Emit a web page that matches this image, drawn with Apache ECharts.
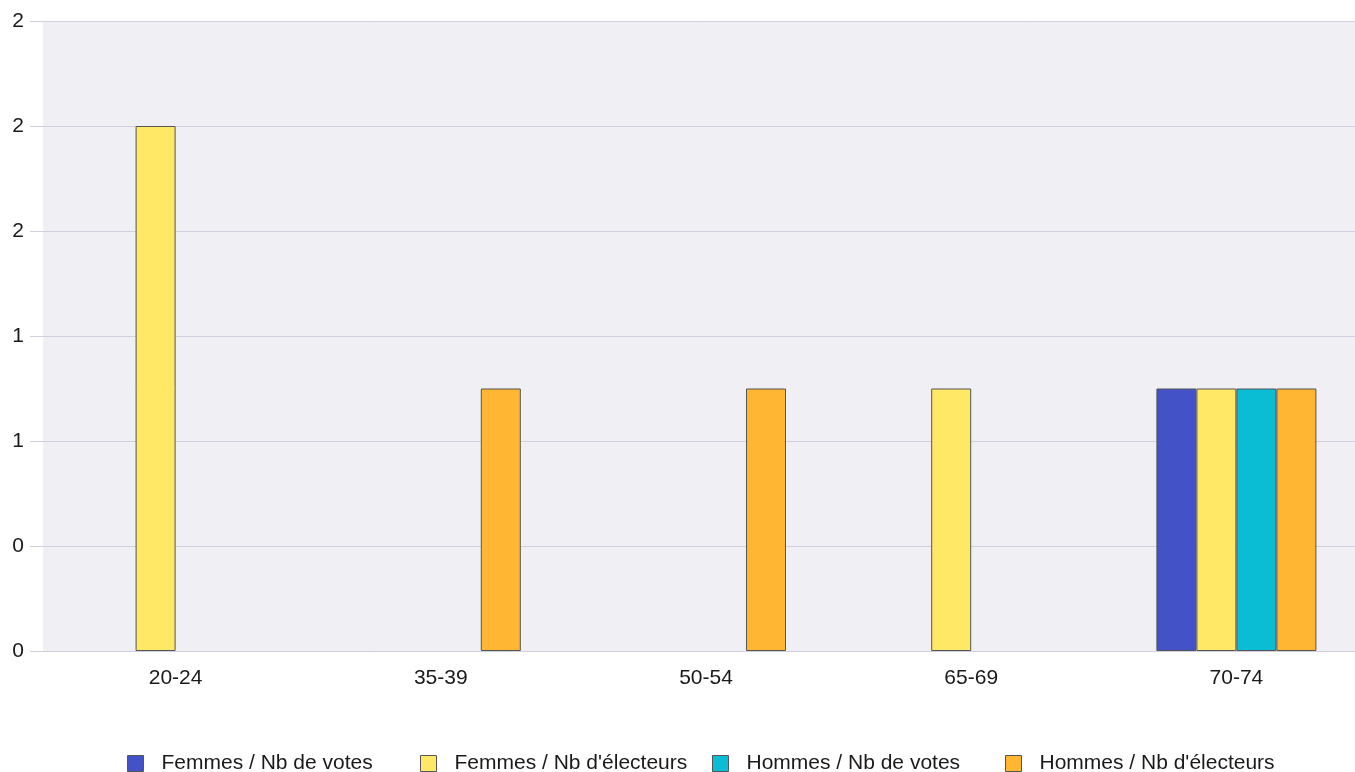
<!DOCTYPE html>
<html><head><meta charset="utf-8">
<script src="https://cdn.jsdelivr.net/npm/echarts@6/dist/echarts.min.js"></script>
<style>html,body{margin:0;padding:0;background:#fff}#c{width:1355px;height:772px}</style>
</head><body><div id="c"></div>
<script>
const categories = ['20-24','35-39','50-54','65-69','70-74'];
const seriesNames = ['Femmes / Nb de votes','Femmes / Nb d\'électeurs','Hommes / Nb de votes','Hommes / Nb d\'électeurs'];
const femmesVotes = [null, null, null, null, 1];
const femmesElecteurs = [2, null, null, 1, 1];
const hommesVotes = [null, null, null, null, 1];
const hommesElecteurs = [null, 1, 1, null, 1];
const yTicks = {min: 0, max: 2.4, interval: 0.4};
const colors = ['#4452c8','#ffe866','#0abdd5','#ffb733'];
const allData = [femmesVotes, femmesElecteurs, hommesVotes, hommesElecteurs];
const legendLeft = [127, 420, 712, 1005];

const chart = echarts.init(document.getElementById('c'));
chart.setOption({
  animation: false,
  textStyle: {fontFamily: 'Liberation Sans, Arial, sans-serif'},
  grid: {left: 43, top: 21, bottom: 121, width: 1326, outerBoundsMode: 'none', containLabel: false,
         show: true, backgroundColor: '#efeff4', borderWidth: 0},
  legend: seriesNames.map((n, i) => ({
    data: [n], left: legendLeft[i], top: 753, padding: 0, itemWidth: 16, itemHeight: 16, itemGap: 0,
    icon: 'rect', textStyle: {fontSize: 21, color: '#1a1a1a', padding: [0,0,0,13]},
    itemStyle: {borderColor: '#555', borderWidth: 1}
  })),
  xAxis: {
    type: 'category', data: categories,
    axisLine: {lineStyle: {color: '#cfcfe0'}},
    axisTick: {show: false},
    axisLabel: {fontSize: 21, color: '#1a1a1a', margin: 17}
  },
  yAxis: {
    type: 'value', min: yTicks.min, max: yTicks.max, interval: yTicks.interval,
    axisLine: {show: false},
    axisTick: {show: true, length: 13, lineStyle: {color: '#cfcfe0'}},
    splitLine: {lineStyle: {color: '#cfcfe0'}},
    axisLabel: {fontSize: 21, color: '#1a1a1a', margin: 19, formatter: v => Math.round(v).toString()}
  },
  series: seriesNames.map((n, i) => ({
    name: n, type: 'bar', data: allData[i], barWidth: 40, barGap: '0%',
    itemStyle: {color: colors[i], borderColor: '#555', borderWidth: 1}
  }))
});
</script></body></html>
